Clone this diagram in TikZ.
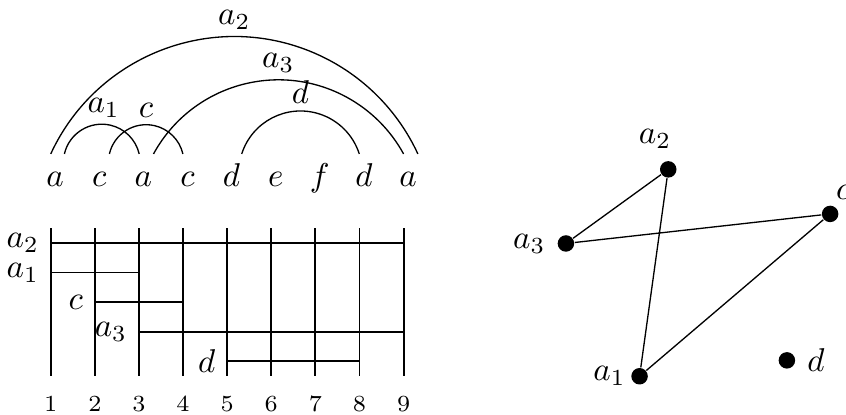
\documentclass[tikz,border=0pt]{standalone}
\begin{document}
\begin{tikzpicture}[x=0.47cm, y=0.47cm,
    dot/.style={circle, fill=black, inner sep=0pt, minimum size=5pt},
    num/.style={anchor=base, font=\scriptsize},
    bar/.style={line width=0.55pt}]
    \useasboundingbox (-0.15,0) rectangle (19.03,9.39);

    % Word along the top
    \foreach \ch [count=\i] in {a,c,a,c,d,e,f,d,a}
        \node[anchor=base] (w\i) at (\i+0.1,5.17) {$\ch$};

    % Arcs over the word
    \draw (1.0,5.9) arc[start angle=155.2, end angle=24.8, radius=4.585];
    \draw (1.31,5.9) arc[start angle=167, end angle=13, radius=0.87];
    \draw (2.33,5.9) arc[start angle=167, end angle=13, radius=0.855];
    \draw (3.33,5.9) arc[start angle=151.3, end angle=28.7, radius=3.232];
    \draw (5.33,5.9) arc[start angle=162.3, end angle=17.7, radius=1.399];
    \node[above, inner sep=2pt] (ta2) at (5.16,8.56) {$a_2$};
    \node[above, inner sep=2pt] (ta3) at (6.16,7.58) {$a_3$};
    \node[above, inner sep=2pt] (td) at (6.66,6.87) {$d$};
    \node[above, inner sep=2pt] (ta1) at (2.2,6.57) {$a_1$};
    \node[above, inner sep=2pt] (tc) at (3.16,6.57) {$c$};

    % Interval table
    \foreach \i in {1,...,9} {
        \draw[bar] (\i,0.87) -- (\i,4.23);
        \node[num] (n\i) at (\i,0.07) {\i};
    }
    \foreach \lab/\from/\to/\y [count=\k] in
        {a_2/1/9/3.88, a_1/1/3/3.21, c/2/4/2.54, a_3/3/9/1.87, d/5/8/1.20}
        \draw[bar] (\from,\y) node[left] (r\k) {$\lab$} -- (\to,\y);

    % Interval graph
    \node[dot, label={[xshift=-4pt]above:$a_2$}] (a2) at (15.0,5.55) {};
    \node[dot, label=left:$a_3$] (a3) at (12.68,3.87) {};
    \node[dot, label={[xshift=4pt, yshift=-2pt]above:$c$}] (c) at (18.67,4.54) {};
    \node[dot, label={[xshift=2pt]left:$a_1$}] (a1) at (14.35,0.86) {};
    \node[dot, label=right:$d$] (d) at (17.69,1.22) {};
    \draw (a2) -- (a3) -- (c) -- (a1) -- (a2);
\end{tikzpicture}
\end{document}
